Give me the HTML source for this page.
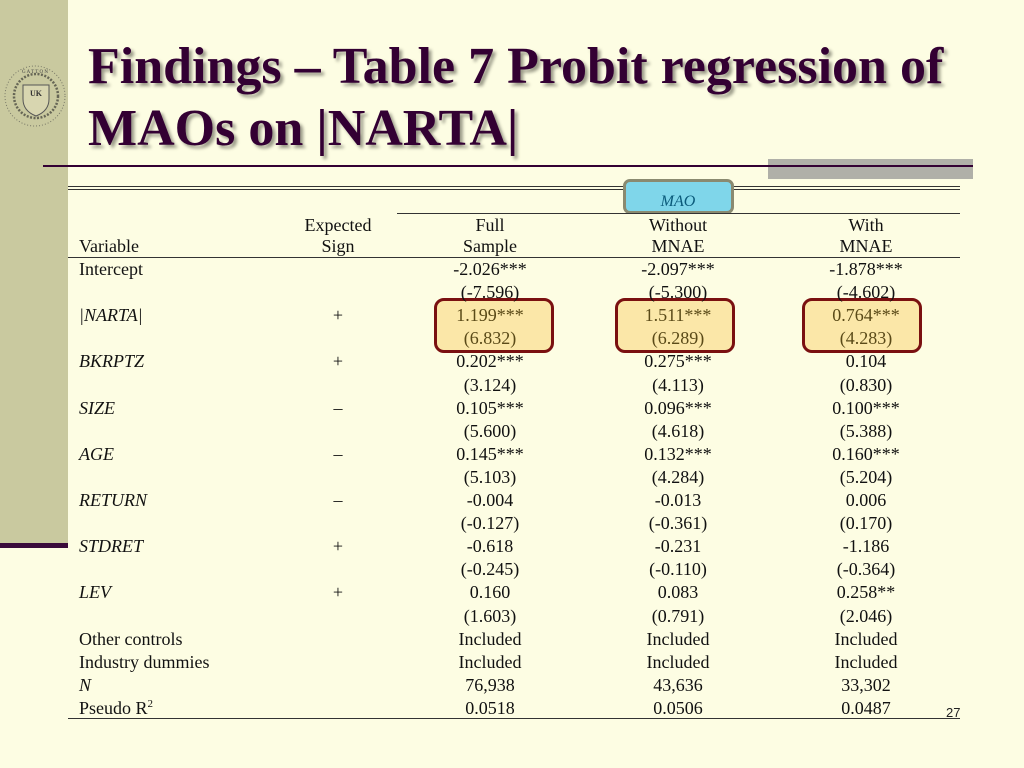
<!DOCTYPE html>
<html><head><meta charset="utf-8">
<style>
body{margin:0;width:1024px;height:768px;overflow:hidden;background:#fdfde3;font-family:"Liberation Serif","Times New Roman",serif;}
#slide{position:relative;width:1024px;height:768px;}
.abs{position:absolute;}
.t{position:absolute;font-size:18px;line-height:20px;color:#111;white-space:nowrap;}
.c{transform:translateX(-50%);}
.ln{position:absolute;background:#333;}
.hl{position:absolute;border:3px solid #7a1010;border-radius:10px;background:#fbe7a8;box-sizing:border-box;}
sup{line-height:0;font-size:11px;}
</style></head><body>
<div id="slide">
<div class="abs" style="left:0;top:0;width:68px;height:545px;background:#c9c99f"></div>
<div class="abs" style="left:0;top:543px;width:68px;height:5px;background:#3a0a3a"></div>
<svg class="abs" style="left:3px;top:63px" width="64" height="66">
<circle cx="32" cy="33" r="30" fill="none" stroke="#776" stroke-width="1" stroke-dasharray="1 2"/>
<circle cx="33" cy="33" r="22" fill="none" stroke="#665" stroke-width="2.5" stroke-dasharray="2 1.5"/>
<path d="M20 22 H46 V36 Q46 48 33 53 Q20 48 20 36 Z" fill="#d8d6b0" stroke="#555" stroke-width="1"/>
<text x="33" y="33" font-size="8" font-weight="bold" text-anchor="middle" fill="#333" font-family="Liberation Serif">UK</text>
<text x="32" y="10" font-size="5" text-anchor="middle" fill="#444" font-family="Liberation Serif">G A T T O N</text>
</svg>
<div class="abs" style="left:88px;top:36px;font-size:52px;line-height:62px;font-weight:bold;color:#330033;text-shadow:3px 3px 3px #9a9a88;">Findings – Table 7 Probit regression of<br>MAOs on |NARTA|</div>
<div class="abs" style="left:768px;top:159px;width:205px;height:20px;background:#b0b0a8"></div>
<div class="abs" style="left:43px;top:165px;width:930px;height:2px;background:#330033"></div>

<div class="ln" style="left:68px;top:186px;width:892px;height:1px"></div>
<div class="ln" style="left:68px;top:189px;width:892px;height:1px"></div>
<div class="abs" style="left:623px;top:179px;width:111px;height:35px;background:#7fd6ea;border:3px solid #8a8a70;border-radius:7px;box-sizing:border-box;"></div>
<div class="t c" style="left:678px;top:192px;font-style:italic;color:#0a5a7a;font-size:16px">MAO</div>
<div class="ln" style="left:397px;top:213px;width:563px;height:1px"></div>
<div class="ln" style="left:68px;top:257px;width:892px;height:1px"></div>
<div class="ln" style="left:68px;top:718px;width:892px;height:1px"></div>

<div class="hl" style="left:434px;top:298px;width:120px;height:55px"></div>
<div class="hl" style="left:615px;top:298px;width:120px;height:55px"></div>
<div class="hl" style="left:802px;top:298px;width:120px;height:55px"></div>

<div class="t c" style="left:338px;top:215px">Expected</div>
<div class="t c" style="left:338px;top:236px">Sign</div>
<div class="t" style="left:79px;top:236px">Variable</div>
<div class="t c" style="left:490px;top:215px">Full</div>
<div class="t c" style="left:490px;top:236px">Sample</div>
<div class="t c" style="left:678px;top:215px">Without</div>
<div class="t c" style="left:678px;top:236px">MNAE</div>
<div class="t c" style="left:866px;top:215px">With</div>
<div class="t c" style="left:866px;top:236px">MNAE</div>
<div id="rows"></div>
<div class="abs" style="left:946px;top:705px;font-family:'Liberation Sans',sans-serif;font-size:13px;color:#222">27</div>
</div>
<script>
const variables=["Intercept","","|NARTA|","","BKRPTZ","","SIZE","","AGE","","RETURN","","STDRET","","LEV","","Other controls","Industry dummies","N","Pseudo R<sup>2</sup>"];
const italicRows=[2,4,6,8,10,12,14,18];
const signs=["","","+","","+","","–","","–","","–","","+","","+","","","","",""];
const fullSample=["-2.026***","(-7.596)","1.199***","(6.832)","0.202***","(3.124)","0.105***","(5.600)","0.145***","(5.103)","-0.004","(-0.127)","-0.618","(-0.245)","0.160","(1.603)","Included","Included","76,938","0.0518"];
const withoutMnae=["-2.097***","(-5.300)","1.511***","(6.289)","0.275***","(4.113)","0.096***","(4.618)","0.132***","(4.284)","-0.013","(-0.361)","-0.231","(-0.110)","0.083","(0.791)","Included","Included","43,636","0.0506"];
const withMnae=["-1.878***","(-4.602)","0.764***","(4.283)","0.104","(0.830)","0.100***","(5.388)","0.160***","(5.204)","0.006","(0.170)","-1.186","(-0.364)","0.258**","(2.046)","Included","Included","33,302","0.0487"];
const rowY=i=>259+i*23.1;
const wrap=document.getElementById('rows');
function cell(html,x,y,center,name,italic,color){
  const d=document.createElement('div');
  d.className='t'+(center?' c':'');
  d.style.left=x+'px';d.style.top=y+'px';
  if(italic)d.style.fontStyle='italic';
  if(color)d.style.color=color;
  d.innerHTML=html;
  
  
  wrap.appendChild(d);
}
variables.forEach((v,i)=>{
  const y=rowY(i);
  if(v){cell(v,79,y,false,'variable-label-'+i,italicRows.includes(i));}
  if(signs[i])cell(signs[i],338,y,true,'expected-sign-'+i);
  const hl=(i===2||i===3)?'#5a4a18':null;
  cell(fullSample[i],490,y,true,'full-sample-value-'+i,false,hl);
  cell(withoutMnae[i],678,y,true,'without-mnae-value-'+i,false,hl);
  cell(withMnae[i],866,y,true,'with-mnae-value-'+i,false,hl);
});
</script>
</body></html>
